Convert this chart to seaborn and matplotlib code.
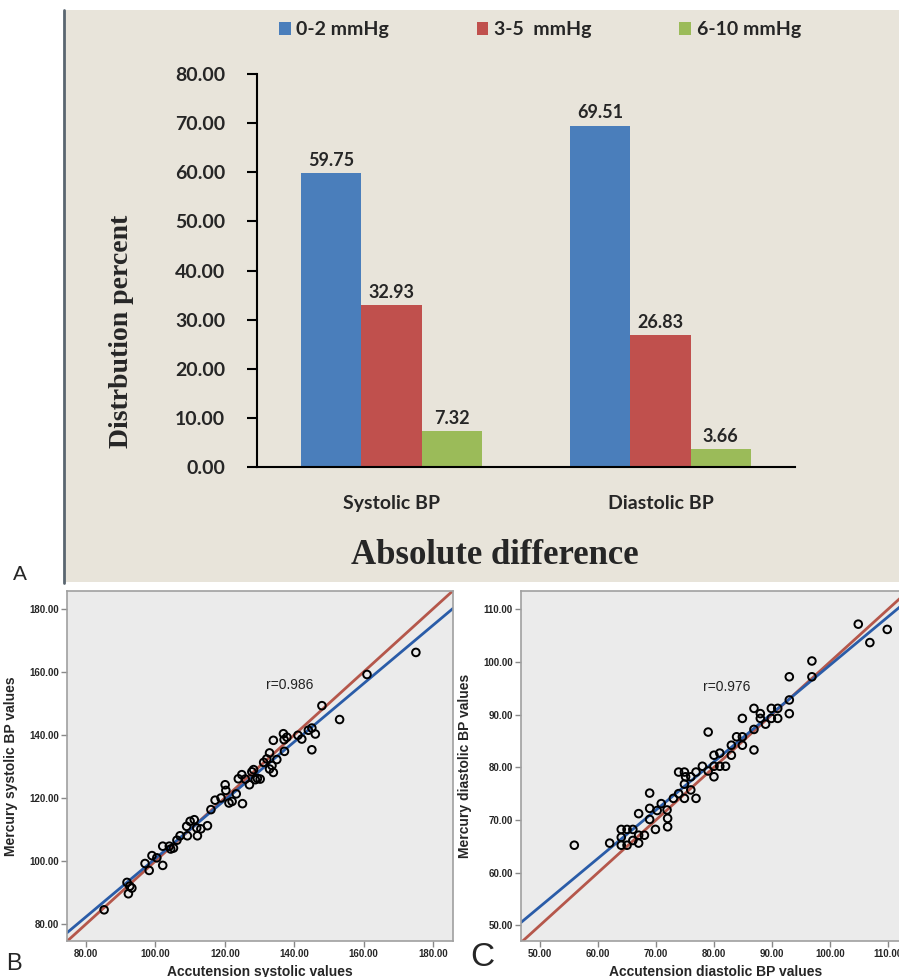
import numpy as np
import pandas as pd
import seaborn as sns
import matplotlib.pyplot as plt
from matplotlib.patches import Patch, Rectangle
from matplotlib.lines import Line2D

# Panel A: distribution of absolute differences (percent)
bp_types = ['Systolic BP', 'Diastolic BP']
diff_ranges = ['0-2 mmHg', '3-5  mmHg', '6-10 mmHg']
pct_0_2 = [59.75, 69.51]
pct_3_5 = [32.93, 26.83]
pct_6_10 = [7.32, 3.66]
bar_colors = ['#4A7EBB', '#C0504D', '#9BBB59']

# Panel B: systolic values
acc_sys = [85.2, 91.8, 92.2, 93.2, 92.6, 97.0, 98.2, 99.0, 100.4, 102.1, 102.1, 104.0,
           104.4, 105.2, 106.2, 107.1, 109.0, 109.2, 110.0, 111.2, 111.9, 112.1, 113.1,
           115.0, 116.0, 117.2, 118.9, 120.1, 120.3, 121.2, 122.1, 123.3, 123.9, 124.9,
           125.1, 125.9, 127.1, 127.8, 128.3, 128.8, 129.4, 130.2, 131.2, 132.1, 132.9,
           132.9, 133.6, 134.0, 134.0, 135.0, 136.9, 137.1, 137.2, 137.9, 141.1, 142.2,
           144.1, 145.1, 145.1, 146.1, 148.0, 153.1, 161.0, 175.1]
merc_sys = [84.5, 93.2, 89.6, 91.4, 92.0, 99.2, 97.0, 101.7, 101.0, 104.7, 98.6, 104.7,
            103.8, 104.1, 106.6, 108.0, 111.0, 108.0, 112.6, 113.1, 110.5, 108.0, 110.2,
            111.2, 116.3, 119.3, 120.0, 124.2, 122.4, 118.4, 118.9, 121.3, 126.1, 127.4,
            118.2, 126.0, 124.2, 128.3, 129.0, 125.8, 126.2, 126.0, 131.3, 132.4, 134.3,
            129.2, 130.3, 128.1, 138.3, 132.2, 140.4, 138.5, 134.8, 139.3, 139.9, 138.7,
            141.5, 142.2, 135.3, 140.3, 149.3, 144.9, 159.2, 166.2]
sys_slope, sys_intercept = 0.925, 8.3

# Panel C: diastolic values
acc_dia = [55.9, 62.0, 64.0, 64.0, 64.0, 65.0, 65.0, 66.0, 66.0, 67.0, 67.0, 67.0, 68.0,
           68.9, 68.9, 68.9, 69.9, 70.2, 70.9, 71.9, 72.0, 72.0, 73.0, 73.9, 73.9, 74.9,
           74.9, 74.9, 75.1, 76.0, 76.0, 76.9, 76.9, 78.0, 79.0, 79.0, 80.0, 80.0, 80.0,
           81.0, 81.0, 82.0, 83.0, 83.0, 83.9, 84.9, 84.9, 84.9, 86.9, 86.9, 86.9, 88.0,
           88.0, 88.9, 89.9, 89.9, 91.0, 91.0, 93.0, 93.0, 93.0, 96.9, 96.9, 104.9, 106.9,
           109.9]
merc_dia = [65.2, 65.6, 68.2, 66.7, 65.2, 68.2, 65.2, 68.2, 66.1, 71.2, 67.1, 65.6, 67.1,
            75.1, 72.2, 70.1, 68.2, 71.8, 73.1, 71.9, 70.3, 68.7, 74.1, 79.1, 75.0, 79.1,
            76.8, 74.1, 78.2, 78.2, 75.7, 79.1, 74.1, 80.2, 86.7, 79.3, 82.3, 78.2, 80.2,
            82.7, 80.2, 80.2, 84.2, 82.3, 85.8, 89.3, 84.2, 85.8, 91.2, 87.2, 83.3, 90.2,
            89.3, 88.2, 91.2, 89.3, 91.2, 89.3, 97.2, 90.2, 92.8, 100.2, 97.2, 107.2, 103.7,
            106.2]
dia_slope, dia_intercept = 0.917, 7.7

sns.set_theme(style='white')
plt.rcParams['font.family'] = ['Liberation Sans', 'DejaVu Sans']

W, H = 899, 977
fig = plt.figure(figsize=(W / 100, H / 100), dpi=100)
fig.patch.set_facecolor('white')


def px_axes(left, top, right, bottom):
    return fig.add_axes([left / W, 1 - bottom / H, (right - left) / W, (bottom - top) / H])


# ---- panel A background frame (behind the axes)
fig.patches.append(Rectangle((64 / W, 1 - 582 / H), (W - 64) / W, (582 - 10) / H,
                             transform=fig.transFigure, facecolor='#E8E4DA',
                             edgecolor='none', zorder=-10))
fig.add_artist(Line2D([64 / W, 64 / W], [1 - 583 / H, 1 - 10 / H], color='#5A6670', lw=2,
                      zorder=-5))

bar_df = pd.DataFrame({
    'type': bp_types * 3,
    'range': [r for r in diff_ranges for _ in bp_types],
    'pct': pct_0_2 + pct_3_5 + pct_6_10,
})

sans_bold = dict(family='Lato', weight='bold')
ax = px_axes(257, 74, 795, 467)
ax.set_facecolor('none')
sns.barplot(data=bar_df, x='type', y='pct', hue='range', palette=bar_colors,
            width=0.67, saturation=1, linewidth=0, edgecolor='none', ax=ax, legend=False)
for cont in ax.containers:
    ax.bar_label(cont, fmt='%.2f', padding=3, fontsize=13, **sans_bold)
ax.set_ylim(0, 80)
ax.set_xlim(-0.5, 1.5)
ax.set_yticks(np.arange(0, 81, 10))
ax.set_yticklabels([f'{v:.2f}' for v in np.arange(0, 81, 10)], fontsize=14, **sans_bold)
ax.set_xticks([0, 1])
ax.set_xticklabels(bp_types, fontsize=14, **sans_bold)
ax.set_xticks([-0.5, 0.5, 1.5], minor=True)
ax.tick_params(axis='x', which='major', length=0, pad=20)
ax.tick_params(axis='x', which='minor', length=7, width=1.5, direction='in', color='black')
ax.tick_params(axis='y', length=7, width=1.5, direction='out', color='black', pad=16, left=True)
for s in ['top', 'right']:
    ax.spines[s].set_visible(False)
for s in ['left', 'bottom']:
    ax.spines[s].set_color('black')
    ax.spines[s].set_linewidth(1.5)
ax.set_xlabel('')
ax.set_ylabel('')

fig.text(122 / W, 1 - 331 / H, 'Distrbution percent', rotation=90, ha='center', va='center',
         fontsize=20, family='Liberation Serif', weight='bold')
fig.text(495 / W, 1 - 556 / H, 'Absolute difference', ha='center', va='center',
         fontsize=25, family='Liberation Serif', weight='bold')

handles = [Patch(facecolor=c, edgecolor='none') for c in bar_colors]
fig.legend(handles, diff_ranges, loc='center', bbox_to_anchor=(540 / W, 1 - 30 / H), ncol=3,
           frameon=False, handlelength=0.6, handleheight=0.6, handletextpad=0.3,
           columnspacing=4.5, prop=dict(family='Lato', weight='bold', size=14))
fig.text(20 / W, 1 - 575 / H, 'A', ha='center', va='center', fontsize=15)


# ---- panels B and C
def scatter_panel(ax, x, y, slope, intercept, r_text, r_pos, xlim, ylim, ticks,
                  xlabel, ylabel):
    ax.set_facecolor('#EBEBEB')
    ax.axline((0, 0), slope=1, color='#B5574B', lw=2, zorder=1)
    ax.axline((0, intercept), slope=slope, color='#2A5CA8', lw=2, zorder=1)
    sns.scatterplot(x=x, y=y, ax=ax, s=30, facecolor='none', edgecolor='black',
                    linewidth=1.4, zorder=3)
    ax.text(r_pos[0], r_pos[1], r_text, ha='center', va='center', fontsize=10,
            color='#222222')
    ax.set_xlim(*xlim)
    ax.set_ylim(*ylim)
    ax.set_xticks(ticks)
    ax.set_yticks(ticks)
    ax.set_xticklabels([f'{t:.2f}' for t in ticks], fontsize=7, weight='bold')
    ax.set_yticklabels([f'{t:.2f}' for t in ticks], fontsize=7, weight='bold')
    ax.tick_params(length=4, width=1, color='#888888', direction='out', pad=2,
                   bottom=True, left=True)
    for s in ax.spines.values():
        s.set_color('#A0A0A0')
        s.set_linewidth(1.2)
    ax.set_xlabel(xlabel, fontsize=10, weight='bold', labelpad=4)
    ax.set_ylabel(ylabel, fontsize=10, weight='bold', labelpad=8)


axb = px_axes(67, 591, 453, 941)
scatter_panel(axb, acc_sys, merc_sys, sys_slope, sys_intercept, 'r=0.986', (138.8, 156.0),
              (74.5, 185.8), (74.6, 185.7), np.arange(80, 181, 20),
              'Accutension systolic values', 'Mercury systolic BP values')

axc = px_axes(521, 591, 911, 941)
scatter_panel(axc, acc_dia, merc_dia, dia_slope, dia_intercept, 'r=0.976', (82.2, 95.3),
              (46.7, 114.0), (47.0, 113.5), np.arange(50, 111, 10),
              'Accutension diastolic BP values', 'Mercury diastolic BP values')

fig.text(14 / W, 1 - 964 / H, 'B', ha='center', va='center', fontsize=17)
fig.text(482 / W, 1 - 958 / H, 'C', ha='center', va='center', fontsize=24)

fig.savefig('out.png', dpi=100)
